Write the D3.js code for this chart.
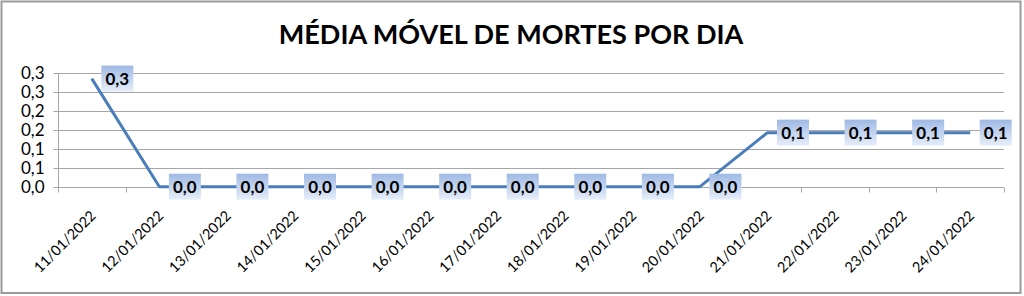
<!DOCTYPE html>
<html>
<head>
<meta charset="utf-8">
<script src="https://cdn.jsdelivr.net/npm/d3@7/dist/d3.min.js"></script>
<style>
  html, body { margin: 0; padding: 0; background: #fff; }
  svg { display: block; }
</style>
</head>
<body>
<svg id="chart" width="1024" height="296"></svg>
<script>
const titleText = "MÉDIA MÓVEL DE MORTES POR DIA";
const categories = ["11/01/2022","12/01/2022","13/01/2022","14/01/2022","15/01/2022","16/01/2022","17/01/2022","18/01/2022","19/01/2022","20/01/2022","21/01/2022","22/01/2022","23/01/2022","24/01/2022"];
const values = [0.286, 0, 0, 0, 0, 0, 0, 0, 0, 0, 0.143, 0.143, 0.143, 0.143];
const yTickValues = [0, 0.05, 0.1, 0.15, 0.2, 0.25, 0.3];
const yTickLabels = ["0,0","0,1","0,1","0,2","0,2","0,3","0,3"];

(function () {
const font = "Lato, 'Open Sans', sans-serif";
const svg = d3.select("#chart");

svg.append("rect").attr("x", 1.5).attr("y", 1.5).attr("width", 1019).attr("height", 291.5)
  .attr("fill", "#fff").attr("stroke", "#9a9a9a").attr("stroke-width", 2);

const pLeft = 58, pRight = 1004, pTop = 73.3, pBottom = 186.7;

const x = d3.scaleBand().domain(categories).range([pLeft, pRight]).padding(0);
const y = d3.scaleLinear().domain([0, 0.3]).range([pBottom, pTop]);

svg.append("text").attr("x", 511).attr("y", 44).attr("text-anchor", "middle")
  .attr("font-family", font).attr("font-weight", "bold").attr("font-size", 27)
  .attr("fill", "#000").text(titleText);

svg.append("g").selectAll("line").data(yTickValues.slice(1)).join("line")
  .attr("x1", pLeft).attr("x2", pRight)
  .attr("y1", d => Math.round(y(d)) + 0.5).attr("y2", d => Math.round(y(d)) + 0.5)
  .attr("stroke", "#a6a6a6").attr("stroke-width", 1);

const yAxis = d3.axisLeft(y).tickValues(yTickValues).tickSize(5).tickPadding(9)
  .tickFormat((d, i) => yTickLabels[i]);
const gy = svg.append("g").attr("transform", `translate(${pLeft + 0.5},0)`).call(yAxis);
gy.select(".domain").attr("stroke", "#a6a6a6").attr("d", `M0,${pTop}V${pBottom + 4}`);
gy.selectAll(".tick").attr("transform", d => `translate(0,${Math.round(y(d)) + 0.5})`);
gy.selectAll(".tick line").attr("stroke", "#a6a6a6");
gy.selectAll(".tick text").attr("font-family", font).attr("font-size", 17).attr("fill", "#000")
  .attr("dy", "0.33em");

const xAxis = d3.axisBottom(x).tickSize(0).tickFormat("");
const gx = svg.append("g").attr("transform", `translate(0,${Math.round(pBottom) + 0.5})`).call(xAxis);
gx.select(".domain").attr("stroke", "#a6a6a6").attr("d", `M${pLeft},0H${pRight}`);
gx.selectAll(".tick").remove();
const boundaries = categories.map(c => x(c)).concat([pRight]);
gx.selectAll("line.bt").data(boundaries).join("line").attr("class", "bt")
  .attr("x1", d => Math.round(d) + 0.5).attr("x2", d => Math.round(d) + 0.5)
  .attr("y1", 0).attr("y2", 5).attr("stroke", "#a6a6a6");

svg.append("g").selectAll("text").data(categories).join("text")
  .attr("transform", d => `translate(${x(d) + x.bandwidth() / 2 + 5},${pBottom + 30}) rotate(-45)`)
  .attr("text-anchor", "end")
  .attr("font-family", font).attr("font-size", 14.5).attr("fill", "#000")
  .text(d => d);

const line = d3.line().x((d, i) => x(categories[i]) + x.bandwidth() / 2).y(d => y(d));
svg.append("path").datum(values).attr("d", line)
  .attr("fill", "none").attr("stroke", "#4a7ebb").attr("stroke-width", 3)
  .attr("stroke-linejoin", "round");

const defs = svg.append("defs");
const grad = defs.append("linearGradient").attr("id", "lblGrad").attr("x1", 0).attr("y1", 0).attr("x2", 0).attr("y2", 1);
grad.append("stop").attr("offset", "0%").attr("stop-color", "#9fb9e4");
grad.append("stop").attr("offset", "100%").attr("stop-color", "#e6eef9");

const fmt = v => d3.format(".1f")(v).replace(".", ",");
const lbl = svg.append("g").selectAll("g").data(values).join("g")
  .attr("transform", (d, i) => `translate(${x(categories[i]) + x.bandwidth() / 2 + 9.5},${y(d)})`);
lbl.append("rect").attr("x", 0).attr("y", -13).attr("width", 32).attr("height", 26)
  .attr("fill", "url(#lblGrad)");
lbl.append("text").attr("x", 16).attr("y", 6).attr("text-anchor", "middle")
  .attr("font-family", font).attr("font-weight", "bold").attr("font-size", 17).attr("fill", "#000")
  .text(d => fmt(d));
})();
</script>
</body>
</html>
